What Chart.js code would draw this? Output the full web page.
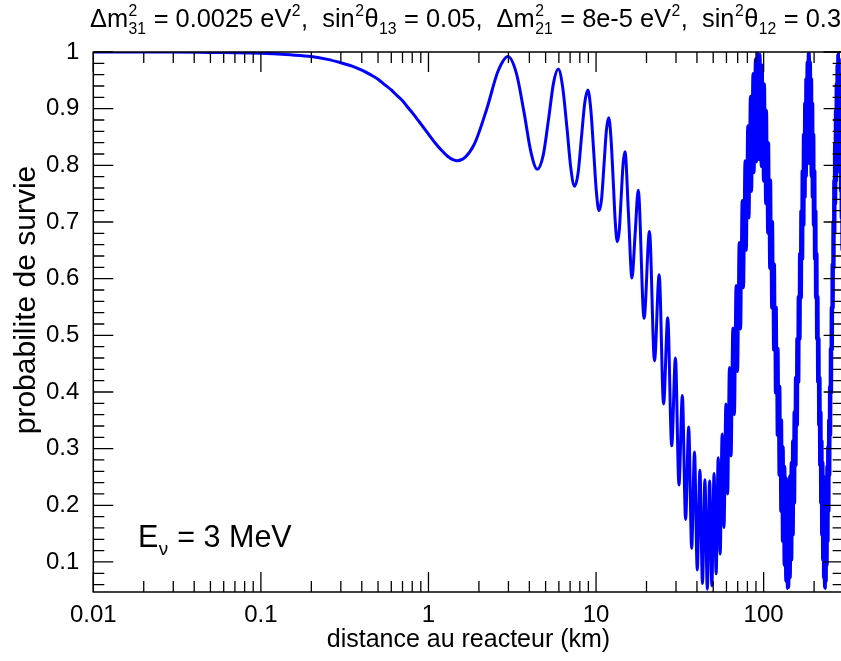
<!DOCTYPE html>
<html>
<head>
<meta charset="utf-8">
<script src="https://cdn.jsdelivr.net/npm/chart.js@4.4.1/dist/chart.umd.min.js"></script>
<style>
html, body { margin: 0; padding: 0; background: #fff; overflow: hidden; }
#wrap { width: 847px; height: 661px; }
</style>
</head>
<body>
<div id="wrap"><canvas id="c" width="847" height="661"></canvas></div>
<script>
// distance au reacteur (km) (peaks / troughs of the fast wiggle)
var distKm = [
    0.01, 0.03, 0.06, 0.1, 0.15, 0.2, 0.25, 0.3, 0.35, 0.4, 0.45, 0.5, 0.55, 0.6, 0.65,
    0.7, 0.75, 0.8, 0.85, 0.9, 0.95, 1.0, 1.1, 1.2, 1.3, 1.4,
    1.49, 1.86, 2.23, 2.60, 2.98, 3.35, 3.72, 4.09, 4.46, 4.84, 5.21, 5.58, 5.95, 6.32,
    6.70, 7.07, 7.44, 7.81, 8.18, 8.56, 8.93, 9.30, 9.67, 10.04, 10.41, 10.79, 11.16, 11.53,
    11.90, 12.27, 12.65, 13.02, 13.39, 13.76, 14.13, 14.51, 14.88,
    15.62, 16.37, 17.11, 17.85,
    19.34, 20.83, 22.32, 23.80, 25.29, 26.78, 28.27, 29.76, 31.24, 32.73,
    34.22, 35.71, 37.20, 38.68, 40.17, 41.66, 43.15, 44.63, 46.12, 47.61,
    49.10, 50.59, 52.07, 53.56, 55.05, 56.54, 58.02, 59.51, 61.00, 62.49,
    63.98, 65.46, 66.95, 68.44, 69.93, 71.41, 72.90, 74.39, 75.88, 77.37,
    78.85, 80.34, 81.83, 83.32, 84.80, 86.29, 87.78, 89.27, 90.76, 92.24,
    93.73, 95.22, 96.71, 98.19, 99.68, 101.2, 102.7, 104.1, 105.6, 107.1,
    108.6, 110.1, 111.6, 113.1, 114.6, 116.1, 117.5, 119.0, 120.5, 122.0,
    123.5, 125.0, 126.5, 128.0, 129.4, 130.9, 132.4, 133.9, 135.4, 136.9,
    138.4, 139.9, 141.3, 142.8, 144.3, 145.8, 147.3, 148.8, 150.3, 151.8,
    153.2, 154.7, 156.2, 157.7, 159.2, 160.7, 162.2, 163.7, 165.1, 166.6,
    168.1, 169.6, 171.1, 172.6, 174.1, 175.6, 177.0, 178.5, 180.0, 181.5,
    183.0, 184.5, 186.0, 187.5, 189.0, 190.4, 191.9, 193.4, 194.9, 196.4,
    197.9, 199.4, 200.9, 202.3, 203.8, 205.3, 206.8, 208.3, 209.8, 211.3,
    212.8, 214.2, 215.7, 217.2, 218.7, 220.2, 221.7, 223.2, 224.7, 226.1,
    227.6, 229.1, 230.6, 232.1, 233.6, 235.1, 236.6, 238.0, 239.5, 241.0,
    242.5, 244.0, 245.5, 247.0, 248.5, 249.9, 251.4, 252.9, 254.4, 255.9,
    257.4, 258.9, 260.4, 261.9, 263.3, 264.8, 266.3, 267.8, 269.3, 270.8,
    272.3, 273.8, 275.2, 276.7, 278.2, 279.7, 281.2, 282.7, 284.2, 285.7,
    287.1, 288.6, 290.1, 291.6, 293.1, 294.6, 296.1, 297.6, 299.0
];
// probabilite de survie at those distances
var survie = [
    1.000, 1.000, 0.999, 0.998, 0.995, 0.992, 0.987, 0.981, 0.975, 0.968, 0.960, 0.952, 0.942, 0.933, 0.923,
    0.914, 0.903, 0.893, 0.883, 0.873, 0.864, 0.855, 0.839, 0.826, 0.816, 0.810,
    0.808, 0.835, 0.900, 0.966, 0.992, 0.962, 0.893, 0.823, 0.793, 0.818, 0.882, 0.946, 0.970, 0.938,
    0.867, 0.795, 0.763, 0.786, 0.849, 0.910, 0.933, 0.899, 0.827, 0.754, 0.720, 0.741, 0.802, 0.862,
    0.884, 0.849, 0.775, 0.700, 0.665, 0.685, 0.745, 0.804, 0.824,
    0.713, 0.601, 0.679, 0.756,
    0.530, 0.683, 0.455, 0.607, 0.379, 0.531, 0.305, 0.460, 0.236, 0.394,
    0.175, 0.338, 0.124, 0.294, 0.086, 0.262, 0.062, 0.245, 0.052, 0.243,
    0.058, 0.256, 0.079, 0.284, 0.114, 0.326, 0.161, 0.379, 0.220, 0.443,
    0.287, 0.513, 0.360, 0.588, 0.436, 0.664, 0.511, 0.738, 0.584, 0.808,
    0.650, 0.870, 0.707, 0.922, 0.754, 0.962, 0.787, 0.988, 0.806, 1.000,
    0.810, 0.996, 0.798, 0.977, 0.772, 0.944, 0.732, 0.897, 0.680, 0.840,
    0.618, 0.774, 0.548, 0.701, 0.474, 0.626, 0.398, 0.550, 0.323, 0.477,
    0.253, 0.410, 0.189, 0.351, 0.136, 0.304, 0.094, 0.269, 0.066, 0.248,
    0.053, 0.242, 0.055, 0.252, 0.072, 0.276, 0.104, 0.314, 0.148, 0.365,
    0.204, 0.426, 0.270, 0.495, 0.341, 0.569, 0.417, 0.645, 0.493, 0.720,
    0.566, 0.791, 0.634, 0.855, 0.694, 0.910, 0.743, 0.953, 0.780, 0.983,
    0.802, 0.998, 0.810, 0.998, 0.802, 0.983, 0.780, 0.953, 0.743, 0.910,
    0.694, 0.855, 0.634, 0.791, 0.566, 0.720, 0.493, 0.645, 0.417, 0.569,
    0.341, 0.495, 0.270, 0.426, 0.204, 0.365, 0.148, 0.314, 0.104, 0.276,
    0.072, 0.252, 0.055, 0.242, 0.053, 0.248, 0.066, 0.269, 0.094, 0.304,
    0.136, 0.351, 0.189, 0.410, 0.253, 0.477, 0.323, 0.550, 0.398, 0.626,
    0.474, 0.701, 0.548, 0.774, 0.618, 0.840, 0.680, 0.897, 0.732, 0.944,
    0.772, 0.977, 0.798, 0.996, 0.810, 1.000, 0.806, 0.988, 0.787, 0.962,
    0.754, 0.922, 0.707, 0.870, 0.650, 0.808, 0.584, 0.738, 0.511
];

var xTickValues = [0.01, 0.1, 1, 10, 100];
var xTickLabels = ['0.01', '0.1', '1', '10', '100'];
var yTickValues = [0.1, 0.2, 0.3, 0.4, 0.5, 0.6, 0.7, 0.8, 0.9, 1];
var yTickLabels = ['0.1', '0.2', '0.3', '0.4', '0.5', '0.6', '0.7', '0.8', '0.9', '1'];

var titleParts = [
    {t: '\u0394m'}, {sup: '2', sub: '31'}, {t: ' = 0.0025 eV'}, {sup: '2'},
    {t: ',  sin'}, {sup: '2'}, {t: '\u03b8'}, {sub: '13'}, {t: ' = 0.05,  \u0394m'},
    {sup: '2', sub: '21'}, {t: ' = 8e-5 eV'}, {sup: '2'},
    {t: ',  sin'}, {sup: '2'}, {t: '\u03b8'}, {sub: '12'}, {t: ' = 0.3'}
];
var energyParts = [{t: 'E'}, {sub: '\u03bd'}, {t: ' = 3 MeV'}];
var yTitle = 'probabilite de survie';

var FONT = "'Liberation Sans', Arial, sans-serif";
Chart.defaults.font.family = FONT;
Chart.defaults.color = '#000';

// text with super/subscripts
function drawRich(ctx, parts, x, y, size) {
    var cx = x;
    ctx.fillStyle = '#000';
    ctx.textBaseline = 'alphabetic';
    ctx.textAlign = 'left';
    parts.forEach(function(p) {
        if (p.t !== undefined) {
            ctx.font = size + 'px ' + FONT;
            ctx.fillText(p.t, cx, y);
            cx += ctx.measureText(p.t).width;
        } else {
            ctx.font = (size * 0.62) + 'px ' + FONT;
            var w = 0;
            if (p.sup) {
                ctx.fillText(p.sup, cx + 0.5, y - size * 0.42);
                w = ctx.measureText(p.sup).width;
            }
            if (p.sub) {
                ctx.fillText(p.sub, cx + 0.5, y + size * 0.26);
                w = Math.max(w, ctx.measureText(p.sub).width);
            }
            cx += w + 1;
        }
    });
}

var framePlugin = {
    id: 'frame',
    afterDraw: function(chart) {
        var ctx = chart.ctx;
        var a = chart.chartArea;
        var xs = chart.scales.x, ys = chart.scales.y;
        ctx.save();
        ctx.strokeStyle = '#000';
        ctx.lineWidth = 1.5;
        ctx.strokeRect(a.left, a.top, a.right - a.left, a.bottom - a.top);
        ctx.lineWidth = 1.3;
        ctx.beginPath();
        // log ticks on x, bottom and top, drawn inwards
        xTickValues.forEach(function(d) {
            for (var k = 1; k <= 9; k++) {
                var v = d * k;
                if (v > 300) break;
                var px = xs.getPixelForValue(v);
                var len = k === 1 ? 20 : 11;
                ctx.moveTo(px, a.bottom); ctx.lineTo(px, a.bottom - len);
                ctx.moveTo(px, a.top); ctx.lineTo(px, a.top + len);
            }
        });
        // y ticks every 0.02, long ones every 0.1
        for (var i = 3; i <= 50; i++) {
            var v = i * 0.02;
            var py = ys.getPixelForValue(v);
            var len = (i % 5 === 0) ? 20 : 11;
            ctx.moveTo(a.left, py); ctx.lineTo(a.left + len, py);
            ctx.moveTo(a.right, py); ctx.lineTo(a.right - len, py);
        }
        ctx.stroke();
        ctx.restore();

        ctx.save();
        drawRich(ctx, titleParts, 90, 27, 25.4);
        drawRich(ctx, energyParts, 138, 547, 30.5);
        ctx.translate(27, 300);
        ctx.rotate(-Math.PI / 2);
        ctx.font = '30px ' + FONT;
        ctx.textAlign = 'center';
        ctx.textBaseline = 'middle';
        ctx.fillText(yTitle, 0, 0);
        ctx.restore();
    }
};

var points = distKm.map(function(d, i) { return {x: d, y: survie[i]}; });

new Chart(document.getElementById('c'), {
    type: 'line',
    data: {
        datasets: [{
            data: points,
            borderColor: '#0000ff',
            borderWidth: 3,
            pointRadius: 0,
            fill: false,
            cubicInterpolationMode: 'monotone'
        }]
    },
    options: {
        responsive: false,
        animation: false,
        devicePixelRatio: 1,
        layout: { padding: { top: 52, right: 3.4, left: 0, bottom: 0 } },
        plugins: { legend: { display: false }, tooltip: { enabled: false } },
        scales: {
            x: {
                type: 'logarithmic',
                min: 0.01,
                max: 300,
                afterFit: function(s) { s.height = 69; },
                afterBuildTicks: function(s) { s.ticks = xTickValues.map(function(v) { return {value: v}; }); },
                ticks: {
                    autoSkip: false,
                    maxRotation: 0,
                    padding: 9,
                    font: { size: 24 },
                    callback: function(v, i) { return xTickLabels[i]; }
                },
                grid: { display: false, drawTicks: false },
                border: { display: false },
                title: {
                    display: true,
                    text: 'distance au reacteur (km)',
                    font: { size: 25 },
                    padding: { top: 0, bottom: 6 }
                }
            },
            y: {
                type: 'linear',
                min: 0.047,
                max: 1,
                afterFit: function(s) { s.width = 93.3; },
                afterBuildTicks: function(s) { s.ticks = yTickValues.map(function(v) { return {value: v}; }); },
                ticks: {
                    padding: 14,
                    font: { size: 24 },
                    callback: function(v, i) { return yTickLabels[i]; }
                },
                grid: { display: false, drawTicks: false },
                border: { display: false },
                title: { display: false }
            }
        }
    },
    plugins: [framePlugin]
});
</script>
</body>
</html>
